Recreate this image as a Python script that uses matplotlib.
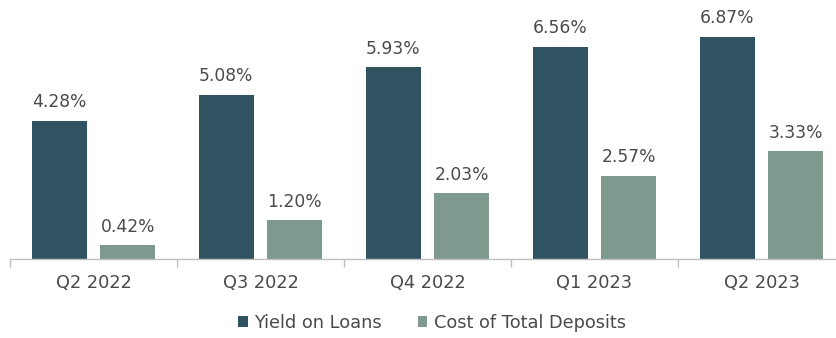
import matplotlib
matplotlib.use("Agg")
import matplotlib.pyplot as plt
import numpy as np

quarters = ["Q2 2022", "Q3 2022", "Q4 2022", "Q1 2023", "Q2 2023"]
yield_on_loans = [4.28, 5.08, 5.93, 6.56, 6.87]
cost_of_deposits = [0.42, 1.20, 2.03, 2.57, 3.33]
series_names = ["Yield on Loans", "Cost of Total Deposits"]

dark = "#2f5361"
light = "#7e9a8f"
text_color = "#4a4a4a"

plt.rcParams["font.family"] = ["DejaVu Sans"]

fig = plt.figure(figsize=(8.36, 3.38), dpi=100)
ax = fig.add_axes([10 / 836, 79 / 338, 835 / 836, 259 / 338])

x = np.arange(len(quarters))
w = 0.33
off = 0.205
b1 = ax.bar(x - off, yield_on_loans, w, color=dark, label=series_names[0])
b2 = ax.bar(x + off, cost_of_deposits, w, color=light, label=series_names[1])

for bars, vals in ((b1, yield_on_loans), (b2, cost_of_deposits)):
    for rect, v in zip(bars, vals):
        ax.annotate(f"{v:.2f}%", (rect.get_x() + rect.get_width() / 2, v),
                    xytext=(0, 7), textcoords="offset points",
                    ha="center", va="bottom", fontsize=12.3, color=text_color)

ax.set_xlim(-0.5, len(quarters) - 0.5)
ax.set_ylim(0, 8.02)
for s in ("top", "right", "left"):
    ax.spines[s].set_visible(False)
ax.spines["bottom"].set_color("#bfbfbf")
ax.spines["bottom"].set_linewidth(1.0)
ax.set_yticks([])
ax.set_xticks(x)
ax.set_xticklabels(quarters, fontsize=12.8, color=text_color)
ax.tick_params(axis="x", which="major", length=0, pad=11)
ax.set_xticks(np.arange(-0.5, len(quarters), 1.0), minor=True)
ax.tick_params(axis="x", which="minor", length=6, color="#bfbfbf", width=1.0)

fig.legend(handles=[b1, b2], labels=series_names, loc="center",
           bbox_to_anchor=(432 / 836, 1 - 323 / 338), ncol=2, frameon=False,
           fontsize=12.8, labelcolor=text_color, handlelength=0.55,
           handleheight=0.55, handletextpad=0.35, columnspacing=2.0)

fig.savefig("out.png", dpi=100)
